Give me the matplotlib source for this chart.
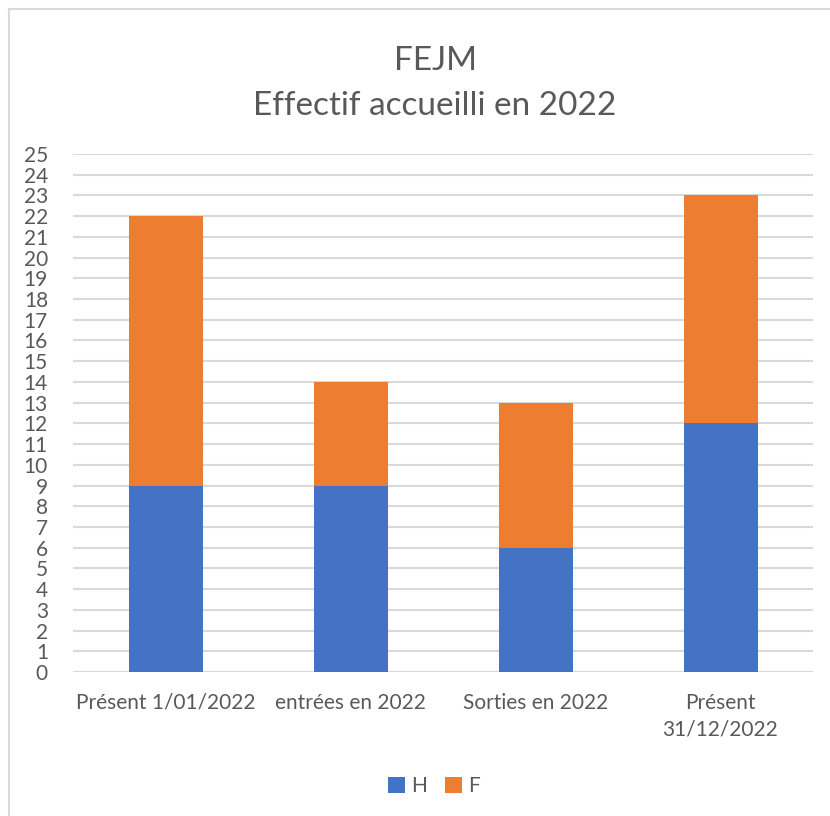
import numpy as np
import matplotlib.pyplot as plt
from matplotlib.lines import Line2D

categories = ['Présent 1/01/2022', 'entrées en 2022', 'Sorties en 2022', 'Présent\n31/12/2022']
hommes = [9, 9, 6, 12]
femmes = [13, 5, 7, 11]
yticks = list(range(0, 26))

plt.rcParams['font.family'] = ['Lato', 'DejaVu Sans']

W, H = 830, 816
fig = plt.figure(figsize=(W / 100, H / 100), dpi=100)

# light frame of the chart (only top and left visible in reference)
fig.add_artist(Line2D([9 / W, 9 / W], [0, 1 - 9 / H], color='#d9d9d9', lw=1.5))
fig.add_artist(Line2D([9 / W, 1], [1 - 9 / H, 1 - 9 / H], color='#d9d9d9', lw=1.5))

ax = fig.add_axes([73 / W, 1 - 672 / H, (813 - 73) / W, (672 - 154) / H])

x = np.arange(len(categories))
ax.bar(x, hommes, width=0.4, color='#4472C4', label='H', zorder=3)
ax.bar(x, femmes, width=0.4, bottom=hommes, color='#ED7D31', label='F', zorder=3)

ax.set_xlim(-0.5, len(categories) - 0.5)
ax.set_ylim(0, 25)
ax.set_yticks(yticks)
ax.set_yticklabels([str(v) for v in yticks], fontsize=15, color='#595959')
ax.set_xticks(x)
ax.set_xticklabels(categories, fontsize=15, color='#595959', linespacing=1.4)
ax.tick_params(axis='y', length=0, pad=18)
ax.tick_params(axis='x', length=0, pad=15)
ax.grid(axis='y', color='#d9d9d9', lw=1.5, zorder=0)
for s in ax.spines.values():
    s.set_visible(False)

fig.text(435 / W, 1 - 61 / H, 'FEJM', ha='center', va='center', fontsize=24, color='#595959')
fig.text(435 / W, 1 - 106 / H, 'Effectif accueilli en 2022', ha='center', va='center',
         fontsize=24, color='#595959')

fig.legend(loc='center', bbox_to_anchor=(434 / W, 1 - 786 / H), ncol=2, frameon=False,
           fontsize=15, handlelength=0.8, handleheight=0.8, handletextpad=0.3,
           columnspacing=0.9, labelcolor='#595959')

fig.savefig('out.png', dpi=100)
